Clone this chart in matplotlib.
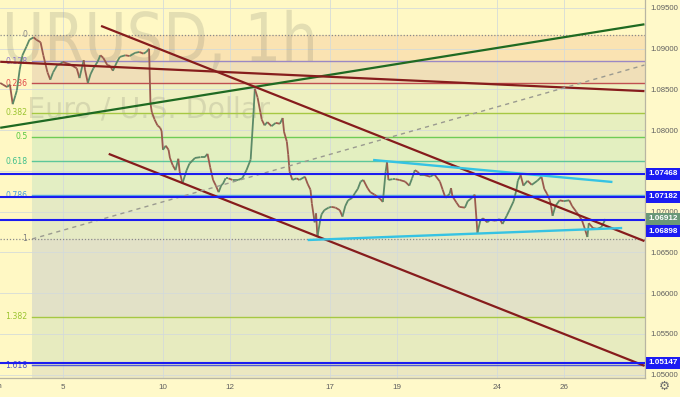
import matplotlib as mpl
mpl.use('agg')
import matplotlib.pyplot as plt
from matplotlib.collections import LineCollection
from matplotlib.font_manager import FontProperties
from matplotlib.patches import PathPatch
from matplotlib.textpath import TextPath
from matplotlib.transforms import Affine2D, blended_transform_factory

W, H = 680, 397

# EURUSD 1h path: trading hours since Jun 3 00:00 (weekends removed) and price
hours = [3, 5, 8, 10, 12, 14, 15, 17, 19, 22, 24, 27, 29, 32, 34, 37, 39, 41, 44, 46,
         48, 51, 53, 55, 58, 60, 63, 64, 66, 68, 70, 73, 75, 77, 80, 82,
         84, 87, 89, 93, 96, 100, 103, 106, 108, 110, 111, 112, 114, 116, 118, 119,
         120, 122, 124, 125, 127, 129, 131, 132, 134, 137, 139, 143, 147, 150, 152, 154,
         156, 158, 160, 162,
         163, 165, 167, 170, 174, 177, 180, 183, 185, 186, 188, 190, 191, 193, 195, 198,
         201, 204, 206, 207, 209, 210, 211, 213, 216, 218, 222, 224, 226, 227, 229, 230,
         231, 233, 234, 236, 239,
         241, 244, 247, 249, 251, 253, 256, 258, 260, 262, 264, 267, 269, 272, 276, 278,
         280, 281, 282, 285, 287, 290, 294, 297, 299, 301, 303, 305, 308, 312, 315, 319,
         321, 323, 326,
         327, 328, 331, 333, 337, 339, 342, 344, 346, 348, 350, 353, 355, 359, 362, 364,
         367, 369, 372, 374, 375, 377, 379, 382, 385, 389, 392, 394, 396, 398, 399, 400,
         402, 405, 408, 412, 414, 417, 419, 421, 423, 425, 426, 429, 432, 435, 438]
prices = [1.0858, 1.0856, 1.0853, 1.0856, 1.0832, 1.0843, 1.0849, 1.0874, 1.0892, 1.0903,
          1.0911, 1.0914, 1.0911, 1.0908, 1.0892, 1.0871, 1.0862, 1.0871, 1.0880, 1.0881,
          1.0884, 1.0882, 1.0881, 1.0879, 1.0876, 1.0864, 1.0886, 1.0874, 1.0858, 1.0869,
          1.0876, 1.0884, 1.0892, 1.0889, 1.0880, 1.0879,
          1.0873, 1.0884, 1.0890, 1.0892, 1.0891, 1.0895, 1.0896, 1.0894, 1.0896, 1.0900,
          1.0833, 1.0822, 1.0813, 1.0806, 1.0803, 1.0799,
          1.0776, 1.0781, 1.0776, 1.0766, 1.0757, 1.0751, 1.0765, 1.0749, 1.0735, 1.0751,
          1.0759, 1.0766, 1.0767, 1.0767, 1.0771, 1.0754, 1.0739, 1.0732, 1.0724, 1.0733,
          1.0734, 1.0741, 1.0741, 1.0739, 1.0739, 1.0741, 1.0751, 1.0764, 1.0819, 1.0851,
          1.0840, 1.0822, 1.0813, 1.0806, 1.0810, 1.0805, 1.0809, 1.0808, 1.0815, 1.0798,
          1.0786, 1.0770, 1.0749, 1.0739, 1.0741, 1.0739, 1.0743, 1.0734, 1.0727, 1.0710,
          1.0687, 1.0698, 1.0669, 1.0690, 1.0697, 1.0702, 1.0705,
          1.0706, 1.0705, 1.0702, 1.0694, 1.0707, 1.0714, 1.0717, 1.0723, 1.0728, 1.0737,
          1.0739, 1.0729, 1.0724, 1.0721, 1.0716, 1.0712, 1.0749, 1.0761, 1.0739, 1.0740,
          1.0740, 1.0739, 1.0737, 1.0732, 1.0741, 1.0751, 1.0749, 1.0745, 1.0745, 1.0743,
          1.0746, 1.0737, 1.0727, 1.0717, 1.0722,
          1.0729, 1.0719, 1.0711, 1.0706, 1.0705, 1.0713, 1.0717, 1.0721, 1.0674, 1.0689,
          1.0692, 1.0687, 1.0690, 1.0689, 1.0691, 1.0685, 1.0695, 1.0702, 1.0713, 1.0727,
          1.0738, 1.0745, 1.0732, 1.0738, 1.0733, 1.0738, 1.0743, 1.0728, 1.0722, 1.0714,
          1.0706, 1.0695, 1.0707, 1.0714, 1.0713, 1.0714, 1.0707, 1.0700, 1.0695, 1.0690,
          1.0680, 1.0669, 1.0686, 1.0680, 1.0679, 1.0681, 1.0691]

day_index = [2, 5, 7, 10, 12, 15, 17]
day_labels = ['5', '10', '12', '17', '19', '24', '26']
price_ticks = [1.050, 1.055, 1.060, 1.065, 1.070, 1.075, 1.080, 1.085, 1.090, 1.095]
hidden_ticks = [1.075]  # sits under the 1.07468 label box

# Fibonacci retracement
fib_start = 26
fib_top = 1.09169
fib_bottom = 1.06666
fib_levels = [0, 0.128, 0.236, 0.382, 0.5, 0.618, 0.786, 1, 1.382, 1.618]
fib_text = ['0', '0.128', '0.236', '0.382', '0.5', '0.618', '0.786', '1', '1.382', '1.618']
fib_line_colors = ['#8a8a8a', '#9a88c4', '#c05050', '#a6c843', '#6fcc55', '#5cc79a',
                   '#5aa8e0', '#8a8a8a', '#a6c843', '#5058d8']
fib_label_colors = ['#888888', '#8c78c8', '#e04848', '#9cc430', '#55c840', '#3fbf8c',
                    '#4a9ee0', '#808080', '#9cc430', '#4a50d0']
fib_band_colors = ['#fae3b2', '#f0dfb8', '#eef0c1', '#e7efbf', '#e3efc0', '#e3eec3',
                   '#e5eac4', '#e2e1c7', '#e7ebbf', '#ebe7c1']

# drawings: (hours, prices, colour, width, style)
trend_lines = [
    ([3, 466], [1.0803, 1.0930], '#1f6a22', 1.6, '-'),
    ([3, 466], [1.0884, 1.0848], '#861c1c', 1.6, '-'),
    ([75.5, 466], [1.0928, 1.0664], '#861c1c', 1.6, '-'),
    ([81, 466], [1.0771, 1.0511], '#861c1c', 1.6, '-'),
    ([26, 466], [1.06666, 1.0880], '#9a9a90', 1.0, (0, (3, 3))),
    ([271, 443], [1.07635, 1.07365], '#35c3e3', 1.7, '-'),
    ([224, 450], [1.06653, 1.0680], '#35c3e3', 1.7, '-'),
]
blue_levels = [1.07468, 1.07182, 1.06898, 1.05147]
last_price = 1.06912

plt.rcParams['font.family'] = ['Liberation Sans', 'DejaVu Sans']

fig = plt.figure(figsize=(W / 100, H / 100), dpi=100, facecolor='#fff9c9')
ax = fig.add_axes([0, 19 / H, 645 / W, 378 / H])
ax.set_facecolor('#fff8c4')
x_lo, x_hi = 2.87, 466.4
y_lo, y_hi = 1.04960, 1.09598
ax.set_xlim(x_lo, x_hi)
ax.set_ylim(y_lo, y_hi)

# fib bands and levels
fib_prices = [fib_top - l * (fib_top - fib_bottom) for l in fib_levels]
band_edges = fib_prices + [y_lo - 0.01]
for i, col in enumerate(fib_band_colors):
    ax.fill_between([fib_start, x_hi + 10], band_edges[i + 1], band_edges[i],
                    color=col, lw=0, zorder=0.1)
for lvl, p, lc, tc, t in zip(fib_levels, fib_prices, fib_line_colors, fib_label_colors, fib_text):
    if lvl in (0, 1):
        ax.axhline(p, color=lc, lw=0.9, ls=(0, (1, 1.5)), zorder=1)
    else:
        ax.plot([fib_start, x_hi + 10], [p, p], color=lc, lw=1.0, zorder=1)
    ax.text(fib_start - 3.5, p, t, color=tc, fontsize=5.6, ha='right', va='center',
            family='DejaVu Sans', zorder=1.1)

# grid and axes
ax.set_xticks([d * 24 for d in day_index])
ax.set_xticklabels(day_labels)
ax.set_yticks(price_ticks)
ax.set_yticklabels(['' if p in hidden_ticks else '%.5f' % p for p in price_ticks])
ax.set_axisbelow(True)
ax.grid(color='#d3dadb', lw=0.7, alpha=0.8)
ax.grid(zorder=0.5)
ax.yaxis.tick_right()
ax.tick_params(axis='y', length=0, pad=4, labelsize=5.6, labelcolor='#5f5f5f')
ax.tick_params(axis='x', length=0, pad=4, labelsize=5.8, labelcolor='#5f5f5f')
for s in ('top', 'left'):
    ax.spines[s].set_visible(False)
for s in ('right', 'bottom'):
    ax.spines[s].set_color('#b8b5a2')
    ax.spines[s].set_linewidth(0.9)
trans_xa = blended_transform_factory(ax.transData, ax.transAxes)
ax.text(0, -0.012, 'Jun', transform=trans_xa, ha='center', va='top', fontsize=5.8,
        color='#5f5f5f', clip_on=False)


# watermark text, stretched to the box it occupies on screen
def fitted_text(s, skip, x0, x1, cap_top, baseline, color, alpha):
    fp = FontProperties(family='DejaVu Sans')
    full = TextPath((0, 0), s, size=1, prop=fp).get_extents()
    sub = TextPath((0, 0), s[skip:], size=1, prop=fp).get_extents()
    left = sub.xmin + (full.xmax - sub.xmax)
    cap = TextPath((0, 0), 'D', size=1, prop=fp).get_extents().ymax
    sx = (x1 - x0) / (full.xmax - left)
    sy = (baseline - cap_top) / cap
    tr = Affine2D().translate(-left, 0).scale(sx, sy).translate(x0, H - baseline)
    patch = PathPatch(TextPath((0, 0), s, size=1, prop=fp), transform=tr,
                      fc=color, ec='none', alpha=alpha, zorder=0.8)
    ax.add_artist(patch)


fitted_text('EURUSD, 1h', 1, 7, 313, 12, 62, '#77776a', 0.2)
fitted_text('Euro / U.S. Dollar', 0, 30, 270, 97, 118, '#77776a', 0.2)

# price path
segs, cols = [], []
for i in range(1, len(hours)):
    segs.append([(hours[i - 1], prices[i - 1]), (hours[i], prices[i])])
    cols.append('#5c8a68' if prices[i] >= prices[i - 1] else '#9a5a4e')
ax.add_collection(LineCollection(segs, colors=cols, linewidths=1.3, zorder=2))

# drawings
for xs, ys, c, lw, ls in trend_lines:
    ax.plot(xs, ys, color=c, lw=lw, ls=ls, zorder=3, solid_capstyle='butt')
for p in blue_levels:
    ax.axhline(p, color='#1c1cf0', lw=1.5, zorder=3.2)

# right-hand price labels
trans_ay = blended_transform_factory(ax.transAxes, ax.transData)
xl = 648.5 / 645
box_labels = [(1.07468, 0, '#1c1cf2'), (1.07182, 0, '#1c1cf2'), (last_price, 0, '#6a9878'),
              (1.06898, -8, '#1c1cf2'), (1.05147, 0, '#1c1cf2')]
for p, off, c in box_labels:
    ax.annotate('%.5f' % p, xy=(xl, p), xycoords=trans_ay, xytext=(0, off),
                textcoords='offset points', ha='left', va='center', fontsize=5.9,
                fontweight='bold', color='white', annotation_clip=False,
                bbox=dict(boxstyle='square,pad=0.3', fc=c, ec='none'), zorder=5)

fig.text(664 / W, 1 - 387 / H, '\u2699', ha='center', va='center', fontsize=9,
         color='#6f6f6f')

fig.savefig('out.png', dpi=100, facecolor=fig.get_facecolor())
